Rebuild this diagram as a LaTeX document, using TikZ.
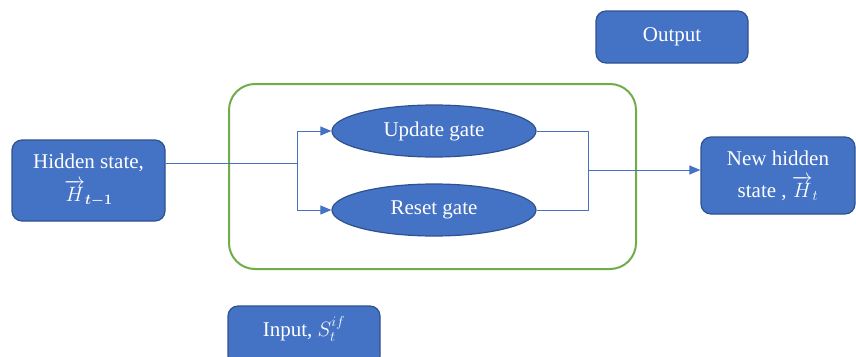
\documentclass[tikz,border=0pt]{standalone}
\usepackage{fontspec}
\setmainfont{Liberation Serif}
\usepackage{amsmath}
\usetikzlibrary{shapes.geometric,arrows.meta}
\definecolor{boxblue}{HTML}{4472C4}
\definecolor{boxedge}{HTML}{2F528F}
\definecolor{gruen}{HTML}{70AD47}
\tikzset{
  bluebox/.style={draw=boxedge, fill=boxblue, line width=1.2pt, rounded corners=10pt,
    text=white, align=center, font=\fontsize{21}{25}\selectfont, inner sep=0pt},
  gate/.style={ellipse, draw=boxedge, fill=boxblue, line width=1.2pt,
    text=white, font=\fontsize{21}{25}\selectfont, inner sep=0pt,
    minimum width=204pt, minimum height=52pt},
  link/.style={draw=boxblue, line width=1pt},
  arr/.style={link, -{Triangle[length=11pt,width=9pt]}}
}
\begin{document}
\begin{tikzpicture}[x=1pt,y=1pt]
\useasboundingbox (0,0) rectangle (856,-356);
% green container
\draw[gruen, line width=2pt, rounded corners=26pt] (229,-84) rectangle (636,-269);
% boxes
\node[bluebox, minimum width=153pt, minimum height=81pt] (hid) at (88.5,-180.5)
  {Hidden state,\\[7pt] $\overrightarrow{H}_{\boldsymbol{t-1}}$};
\node[bluebox, minimum width=154pt, minimum height=77pt] (newh) at (778,-175.5)
  {New hidden\\[7pt] state , $\overrightarrow{H}_{t}$};
\node[bluebox, minimum width=152pt, minimum height=60pt] (inp) at (304,-336)
  {};
\node[font=\fontsize{21}{25}\selectfont, text=white] (inptxt) at (304,-329) {Input, $S_t^{if}$};
\node[bluebox, minimum width=152pt, minimum height=52pt] (out) at (672,-37) {Output};
% gates
\node[gate] (upd) at (434,-131) {Update gate};
\node[gate] (res) at (434,-210) {Reset gate};
% connectors
\coordinate (split) at (297,-163);
\coordinate (join) at (588,-170);
\draw[link] (hid.east |- split) -- (split);
\draw[link] (split |- upd.west) -- (split |- res.west);
\draw[arr] (split |- upd.west) -- (upd.west);
\draw[arr] (split |- res.west) -- (res.west);
\draw[link] (upd.east) -- (join |- upd.east) -- (join |- res.east) -- (res.east);
\draw[arr] (join) -- (newh.west |- join);
\end{tikzpicture}
\end{document}
